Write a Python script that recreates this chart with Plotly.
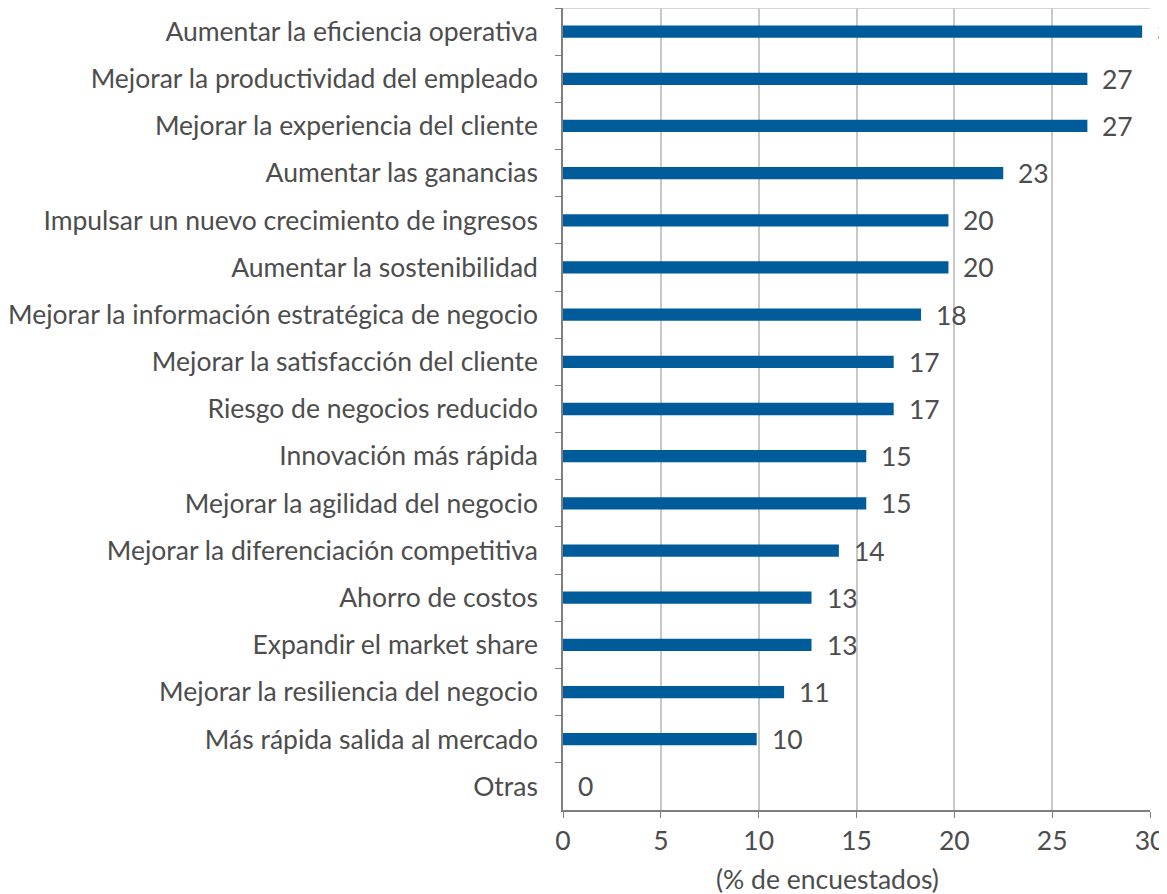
import plotly.graph_objects as go

categories = [
    "Aumentar la eficiencia operativa",
    "Mejorar la productividad del empleado",
    "Mejorar la experiencia del cliente",
    "Aumentar las ganancias",
    "Impulsar un nuevo crecimiento de ingresos",
    "Aumentar la sostenibilidad",
    "Mejorar la información estratégica de negocio",
    "Mejorar la satisfacción del cliente",
    "Riesgo de negocios reducido",
    "Innovación más rápida",
    "Mejorar la agilidad del negocio",
    "Mejorar la diferenciación competitiva",
    "Ahorro de costos",
    "Expandir el market share",
    "Mejorar la resiliencia del negocio",
    "Más rápida salida al mercado",
    "Otras",
]
values = [29.6, 26.8, 26.8, 22.5, 19.7, 19.7, 18.3, 16.9, 16.9, 15.5, 15.5, 14.1, 12.7, 12.7, 11.3, 9.9, 0]
value_labels = ["30", "27", "27", "23", "20", "20", "18", "17", "17", "15", "15", "14", "13", "13", "11", "10", "0"]
x_ticks = [0, 5, 10, 15, 20, 25, 30]
x_title = "(% de encuestados)"

FONT = "Lato"
FS = 26.5
TXT = "#4d4d4d"
BAR = "#005b9a"

fig = go.Figure()
fig.add_trace(go.Bar(
    y=categories, x=values, orientation="h",
    marker=dict(color=BAR, line=dict(width=0)),
    width=0.26, showlegend=False, hoverinfo="x+y",
))

for c, v, t in zip(categories, values, value_labels):
    fig.add_annotation(x=v, y=c, text=t, showarrow=False, xanchor="left",
                       xshift=13, font=dict(family=FONT, size=FS, color=TXT))

fig.add_annotation(x=0.451, y=0, xref="paper", yref="paper", text=x_title,
                   showarrow=False, xanchor="center", yanchor="middle", yshift=-69,
                   font=dict(family=FONT, size=FS, color=TXT))

fig.update_layout(
    width=1167, height=894,
    margin=dict(l=555, r=25, t=0, b=92),
    paper_bgcolor="white", plot_bgcolor="white",
    font=dict(family=FONT, size=FS, color=TXT),
    xaxis=dict(range=[0, 30], tickvals=x_ticks, ticktext=[str(v) for v in x_ticks],
               showgrid=True, gridcolor="#c8c8c8", gridwidth=1.5,
               showline=True, linecolor="#7f7f7f", linewidth=1.5,
               ticks="outside", ticklen=6, tickcolor="#7f7f7f",
               zeroline=False, mirror=False,
               tickfont=dict(family=FONT, size=FS, color=TXT)),
    yaxis=dict(autorange="reversed", showline=True, linecolor="#7f7f7f", linewidth=1.5,
               ticks="outside", ticklen=6, tickcolor="#7f7f7f", tickson="boundaries",
               showgrid=False, ticklabelstandoff=18,
               tickfont=dict(family=FONT, size=FS, color=TXT)),
)
fig.add_shape(type="line", xref="paper", yref="paper", x0=0, x1=1, y0=1, y1=1,
              line=dict(color="#c8c8c8", width=1.5))

fig.write_html("out.html")
